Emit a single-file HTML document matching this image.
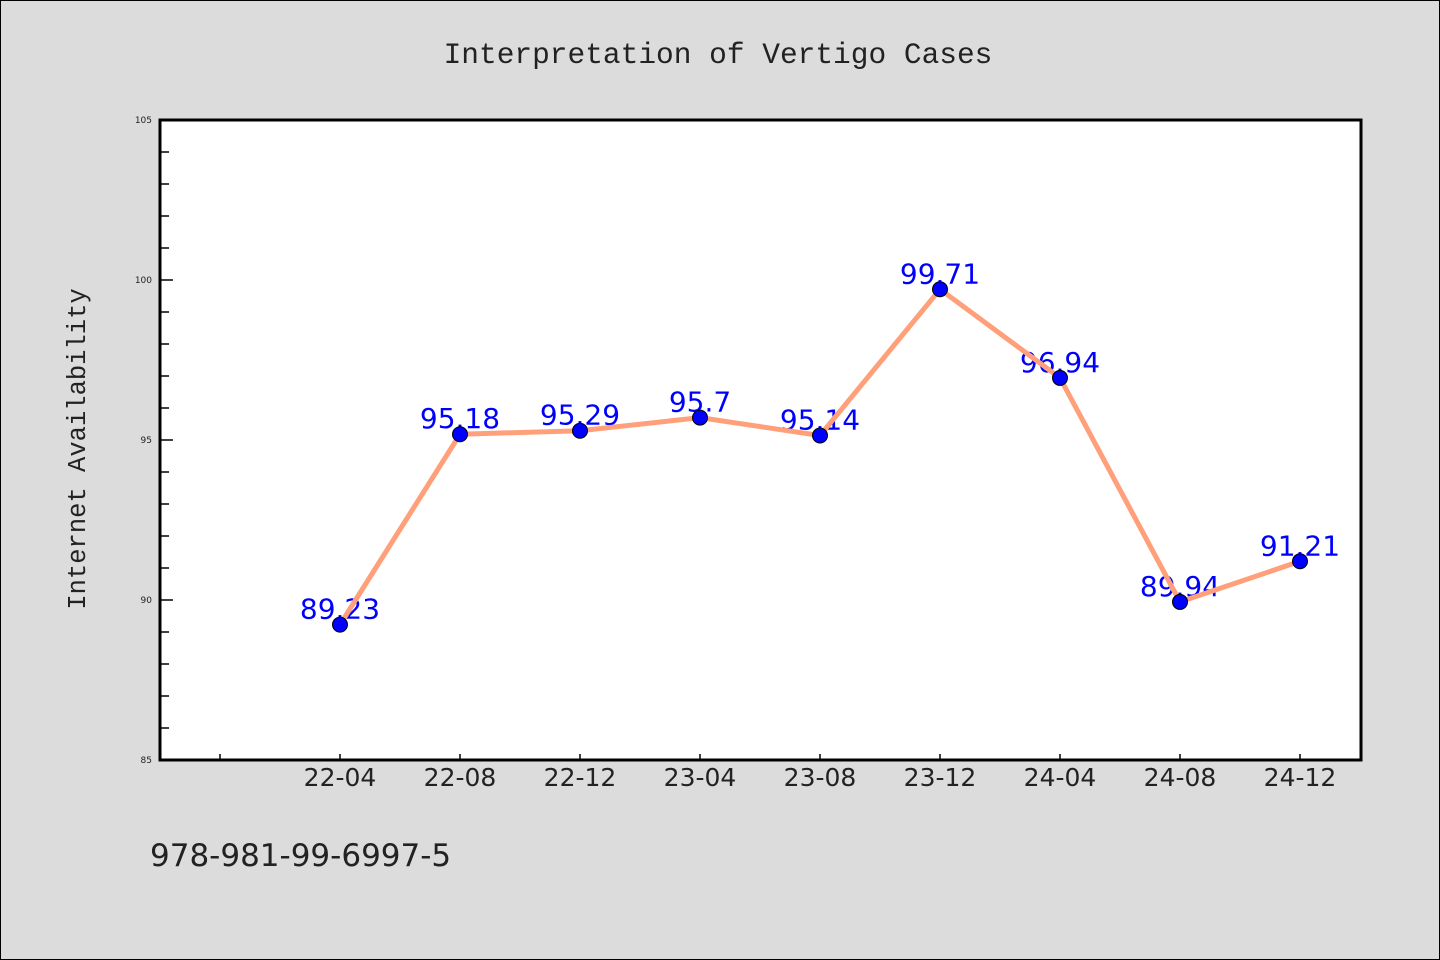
<!DOCTYPE html>
<html><head><meta charset="utf-8"><style>
body{margin:0;background:#dcdcdc;}
svg{display:block;font-family:"DejaVu Sans",sans-serif;}
</style></head><body>
<svg id="c" width="1440" height="960">
<rect x="0.5" y="0.5" width="1439" height="959" fill="#dcdcdc" stroke="#000"/>
<text x="718" y="63" font-size="29.5" font-family="Liberation Mono, monospace" text-anchor="middle" fill="#222">Interpretation of Vertigo Cases</text>
<rect x="160" y="120" width="1201" height="640" fill="#fff" stroke="#000" stroke-width="3"/>
<text transform="translate(85,449) rotate(-90)" font-size="25.5" font-family="Liberation Mono, monospace" text-anchor="middle" fill="#222">Internet Availability</text>
<text x="150" y="866" font-size="31" fill="#222">978-981-99-6997-5</text>
<g id="axes"></g><g id="labels"></g><g id="line"></g><g id="points"></g>
</svg>
<script>
const categories=["22-04","22-08","22-12","23-04","23-08","23-12","24-04","24-08","24-12"];
const values=[89.23,95.18,95.29,95.7,95.14,99.71,96.94,89.94,91.21];
const yTicks=[85,90,95,100,105];
const NS="http://www.w3.org/2000/svg";
function el(t,a,p){const e=document.createElementNS(NS,t);for(const k in a)e.setAttribute(k,a[k]);p.appendChild(e);return e;}
const x=i=>340+120*i;
const y=v=>760-(v-85)*32;
const axes=document.getElementById('axes');
for(let v=85;v<=105;v++){
 const major=v%5===0;
 const t=el('line',{x1:160,x2:major?173:169,y1:y(v),y2:y(v),stroke:'#000','stroke-width':1.5},axes);
 
 
}
yTicks.forEach(v=>{
 const t=el('text',{x:152,y:y(v)+3,'font-size':9,'text-anchor':'end',fill:'#222'},axes);
 t.textContent=v;
 
 
});
const et=el('line',{x1:220,x2:220,y1:760,y2:754,stroke:'#000','stroke-width':1.5},axes);


categories.forEach((c,i)=>{
 const t=el('line',{x1:x(i),x2:x(i),y1:760,y2:754,stroke:'#000','stroke-width':1.5},axes);
 
 
 const l=el('text',{x:x(i),y:786,'font-size':25,'text-anchor':'middle',fill:'#222'},axes);
 l.textContent=c;
 
 
});
const lab=document.getElementById('labels');
values.forEach((v,i)=>{
 const t=el('text',{x:x(i),y:y(v)-6,'font-size':28,'text-anchor':'middle',fill:'#0000ff'},lab);
 t.textContent=v;
 
 
});
const pl=el('polyline',{points:values.map((v,i)=>x(i)+','+y(v)).join(' '),fill:'none',stroke:'#ffa07a','stroke-width':5,'stroke-linejoin':'round'},document.getElementById('line'));


const pts=document.getElementById('points');
values.forEach((v,i)=>{
 const c=el('circle',{cx:x(i),cy:y(v),r:7.5,fill:'#0000ff',stroke:'#000','stroke-width':1},pts);
 
 
});
</script>
</body></html>
